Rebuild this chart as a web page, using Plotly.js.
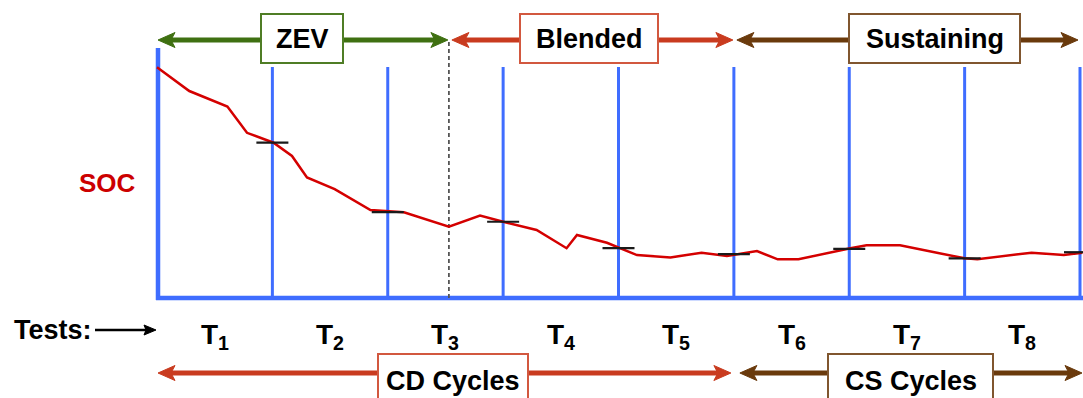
<!DOCTYPE html>
<html><head><meta charset="utf-8">
<script src="https://cdn.plot.ly/plotly-3.0.1.min.js"></script>
<style>html,body{margin:0;padding:0;background:#fff;}#chart{width:1083px;height:398px;}</style>
</head><body><div id="chart"></div>
<script>
// ---- data ----
const curveX   = [0.0, 0.28, 0.61, 0.78, 1.01, 1.17, 1.30, 1.54, 1.85, 2.14, 2.53, 2.80, 3.00, 3.29, 3.55, 3.64, 3.90, 4.01, 4.16, 4.45, 4.72, 4.94, 5.20, 5.38, 5.56, 6.01, 6.15, 6.44, 7.00, 7.11, 7.58, 7.86, 8.02];
const curveSOC = [97.8, 87.7, 81.1, 70.0, 65.8, 60.2, 51.1, 46.1, 37.3, 36.3, 30.2, 34.9, 32.3, 28.8, 21.1, 26.7, 23.4, 21.1, 18.2, 17.2, 19.2, 17.8, 19.9, 16.4, 16.4, 21.1, 22.3, 22.3, 16.8, 16.4, 19.2, 18.2, 19.2];
const testEnds   = [1, 2, 3, 4, 5, 6, 7, 8];
const testLabels = ['T<sub>1</sub>','T<sub>2</sub>','T<sub>3</sub>','T<sub>4</sub>','T<sub>5</sub>','T<sub>6</sub>','T<sub>7</sub>','T<sub>8</sub>'];
const endSOC     = [65.8, 36.4, 32.3, 21.1, 18.6, 20.8, 16.8, 19.4];
const phaseNames  = ['ZEV', 'Blended', 'Sustaining'];
const phaseBounds = [0, 2.53, 5, 8];
const cycleNames  = ['CD Cycles', 'CS Cycles'];
const cycleBounds = [0, 5, 8];

// ---- geometry helpers (pixel <-> data) ----
const W = 1083, H = 398;
const PX0 = 157, PXU = 115.375, PY0 = 298, PYU = 2.36;
const X = px => (px - PX0) / PXU;
const Y = py => (PY0 - py) / PYU;
const PX = x => PX0 + x * PXU;

const BLUE = '#3f6dff';
const FONT = 'Liberation Sans, Arial, sans-serif';
const phaseStyle = [
  {arrow:'#3f7011', border:'#4f7d25', cx:302, w:82},
  {arrow:'#c93b1f', border:'#d2583f', cx:589, w:138},
  {arrow:'#6a3a0c', border:'#80562f', cx:934.5, w:171}
];
const cycleStyle = [
  {arrow:'#c93b1f', border:'#d2583f', cx:453, w:150},
  {arrow:'#6a3a0c', border:'#80562f', cx:910.5, w:165}
];

const shapes = [];
const annotations = [];

// vertical test lines
testEnds.forEach(t => shapes.push({type:'line', layer:'below', x0:t, x1:t, y0:Y(67), y1:Y(298), line:{color:BLUE, width:3}}));
// axes
shapes.push({type:'line', layer:'below', x0:X(158), x1:X(158), y0:Y(48), y1:Y(300), line:{color:BLUE, width:4.5}});
shapes.push({type:'line', layer:'below', x0:X(156), x1:X(W), y0:Y(298), y1:Y(298), line:{color:BLUE, width:4.5}});
// dashed ZEV/Blended divider
shapes.push({type:'line', layer:'below', x0:phaseBounds[1], x1:phaseBounds[1], y0:Y(42), y1:Y(298), line:{color:'#555', width:1.8, dash:'4px,3px'}});

function head(tipPx, ypx, dir, color, L, h, n) {
  const p = (dx, dy) => `${X(tipPx + dir*dx)},${Y(ypx + dy)}`;
  shapes.push({type:'path', layer:'below', path:`M ${p(0,0)} L ${p(L,-h)} L ${p(L-n,0)} L ${p(L,h)} Z`, fillcolor:color, line:{color:color, width:1}});
}
function arrow(x0px, x1px, ypx, color, lw, L, h, n, both) {
  shapes.push({type:'line', layer:'below', x0:X(x0px + (both ? L-n : 0)), x1:X(x1px - (L-n)), y0:Y(ypx), y1:Y(ypx), line:{color:color, width:lw}});
  if (both) head(x0px, ypx, 1, color, L, h, n);
  head(x1px, ypx, -1, color, L, h, n);
}
function box(cx, w, yTop, yBot, border, label, ytext) {
  shapes.push({type:'rect', layer:'below', x0:X(cx - w/2), x1:X(cx + w/2), y0:Y(yBot), y1:Y(yTop), fillcolor:'#fff', line:{color:border, width:2}});
  annotations.push({x:X(cx), y:Y(ytext), xref:'x', yref:'y', text:label, showarrow:false, xanchor:'center', yanchor:'middle',
    font:{family:FONT, size:27, color:'#000', weight:700}});
}

// phase arrows (top)
phaseNames.forEach((nm, i) => {
  const s = phaseStyle[i];
  arrow(PX(phaseBounds[i]) + (i ? 3 : 1), PX(phaseBounds[i+1]) - (i === 2 ? 2 : 1), 40, s.arrow, 5, 17, 7.5, 4, true);
});
phaseNames.forEach((nm, i) => { const s = phaseStyle[i]; box(s.cx, s.w, 14, 63, s.border, nm, 39); });

// cycle arrows (bottom)
cycleNames.forEach((nm, i) => {
  const s = cycleStyle[i];
  arrow(PX(cycleBounds[i]) + (i ? 6 : 1), PX(cycleBounds[i+1]) + (i ? 2 : -3), 373, s.arrow, 5, 17, 7.5, 4, true);
});
cycleNames.forEach((nm, i) => { const s = cycleStyle[i]; box(s.cx, s.w, 354, 402, s.border, nm, 381); });

// Tests: arrow
arrow(95, 156, 330, '#000', 2.5, 12, 5, 2, false);
annotations.push({x:X(12), y:Y(330), text:'Tests:', showarrow:false, xanchor:'left', yanchor:'middle', font:{family:FONT, size:27, color:'#000', weight:700}});
// SOC label
annotations.push({x:X(107), y:Y(183), text:'SOC', showarrow:false, xanchor:'center', yanchor:'middle', font:{family:FONT, size:26, color:'#cc0000', weight:700}});
// Test labels
testEnds.forEach((t, i) => annotations.push({x:t - 0.5, y:Y(336), text:testLabels[i], showarrow:false, xanchor:'center', yanchor:'middle',
  font:{family:FONT, size:28, color:'#000', weight:700}}));

// end-of-test markers
const hw = 16 / PXU;
const tx = [], ty = [];
testEnds.forEach((t, i) => { tx.push(t - hw, t + hw, null); ty.push(endSOC[i], endSOC[i], null); });

const traces = [
  {x:curveX, y:curveSOC, mode:'lines', line:{color:'#d40000', width:2.5}, hoverinfo:'skip', cliponaxis:false},
  {x:tx, y:ty, mode:'lines', line:{color:'#1a1a1a', width:2.2}, hoverinfo:'skip', connectgaps:false}
];

Plotly.newPlot('chart', traces, {
  width:W, height:H, autosize:false, margin:{l:0, r:0, t:0, b:0},
  paper_bgcolor:'#fff', plot_bgcolor:'#fff', showlegend:false,
  xaxis:{range:[X(0), X(W)], visible:false, fixedrange:true},
  yaxis:{range:[Y(H), Y(0)], visible:false, fixedrange:true},
  shapes:shapes, annotations:annotations
}, {displayModeBar:false, staticPlot:true});
</script></body></html>
